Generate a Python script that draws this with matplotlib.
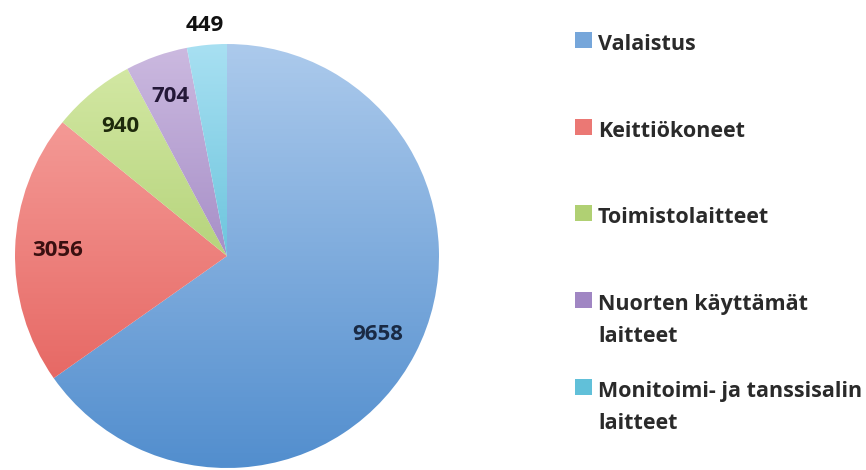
import numpy as np
import matplotlib
matplotlib.use("Agg")
import matplotlib.pyplot as plt
from matplotlib.patches import Rectangle

categories = ["Valaistus", "Keittiökoneet", "Toimistolaitteet",
              "Nuorten käyttämät\nlaitteet", "Monitoimi- ja tanssisalin\nlaitteet"]
values = [9658, 3056, 940, 704, 449]

# light (top of pie) and dark (bottom of pie) tones of each slice gradient
light = [(172, 202, 236), (248, 168, 164), (214, 234, 168), (204, 186, 224), (168, 224, 242)]
dark = [(82, 142, 206), (226, 88, 84), (150, 190, 80), (130, 100, 175), (50, 170, 200)]
label_colors = ["#1a2a44", "#3a1010", "#1e2a0c", "#241838", "#111111"]
label_dist = [0.80, 0.80, 0.79, 0.80, 1.09]

FONT = "Open Sans"
FS_LEG = 15.5
FS_NUM = 16

W, H = 866, 470
fig = plt.figure(figsize=(W / 100, H / 100), dpi=100)
cx, cy, r = 227, 256, 212
ax = fig.add_axes([(cx - r) / W, (H - cy - r) / H, 2 * r / W, 2 * r / H])
ax.set_xlim(-1, 1)
ax.set_ylim(-1, 1)
ax.axis("off")

wedges, _ = ax.pie(values, startangle=90, counterclock=False, radius=1,
                   colors=["none"] * len(values), wedgeprops=dict(linewidth=0))

t = np.linspace(0, 1, 256)[:, None]
for w, lc, dc in zip(wedges, light, dark):
    lc = np.array(lc) / 255.0
    dc = np.array(dc) / 255.0
    grad = lc[None, None, :] * (1 - t[..., None]) + dc[None, None, :] * t[..., None]
    grad = np.repeat(grad, 2, axis=1)
    im = ax.imshow(grad, extent=[-1, 1, -1, 1], origin="upper", aspect="auto",
                   interpolation="bilinear", zorder=1)
    im.set_clip_path(w)

ax.set_xlim(-1, 1)
ax.set_ylim(-1, 1)

for w, v, c, d in zip(wedges, values, label_colors, label_dist):
    ang = np.deg2rad((w.theta1 + w.theta2) / 2)
    ax.text(d * np.cos(ang), d * np.sin(ang), str(v), ha="center", va="center",
            fontsize=FS_NUM, fontweight="bold", family=FONT, color=c, zorder=3)

# legend (first-line baselines in pixels)
baselines = [50, 137, 223, 310, 397]
line_gap = 32
for cat, lc, dc, yb in zip(categories, light, dark, baselines):
    col = tuple((np.array(lc) * 0.4 + np.array(dc) * 0.6) / 255.0)
    fig.add_artist(Rectangle((575 / W, (H - yb + 2) / H), 17 / W, 16 / H,
                             transform=fig.transFigure, color=col, lw=0))
    for i, line in enumerate(cat.split("\n")):
        fig.text(598 / W, (H - yb - i * line_gap) / H, line, ha="left", va="baseline",
                 fontsize=FS_LEG, fontweight="bold", family=FONT, color="#2a2a2a",
                 transform=fig.transFigure)

fig.savefig("out.png", dpi=100, facecolor="white")
